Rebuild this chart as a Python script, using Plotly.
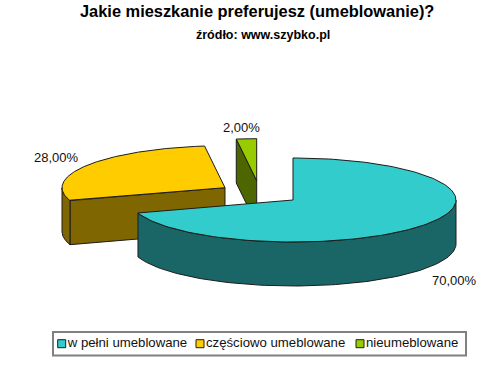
import numpy as np
import plotly.graph_objects as go

categories = ["w pełni umeblowane", "częściowo umeblowane", "nieumeblowane"]
values = [70.0, 28.0, 2.0]
labels = ["70,00%", "28,00%", "2,00%"]
top_colors = ["#33CCCC", "#FFCC00", "#99CC00"]
side_colors = ["#1A6666", "#806600", "#4D6600"]

# drawing geometry (pixels of the 500x366 window)
RX, RY, DEPTH = 163, 42, 44
centers = [(293, 200), (225, 187.7), (256.7, 180.7)]
label_pos = [(454, 280), (56, 157), (241, 127)]
legend_x = [61.7, 200, 360]
legend_y = 343.7
EDGE = "#1c1c1c"


def pt(c, deg, dz=0):
    t = np.radians(deg)
    return c[0] + RX * np.sin(t), c[1] - RY * np.cos(t) + dz


def poly(fig, xs, ys, fill):
    fig.add_trace(go.Scatter(x=list(xs), y=list(ys), mode="lines", fill="toself",
                             fillcolor=fill, line=dict(color=EDGE, width=1),
                             showlegend=False, hoverinfo="skip"))


total = sum(values)
spans = []
a = 0.0
for v in values:
    spans.append((a, a + 360 * v / total))
    a += 360 * v / total

fig = go.Figure()

# back to front: green, yellow, teal
for i in [2, 1, 0]:
    c = centers[i]
    a0, a1 = spans[i]
    th = np.linspace(a0, a1, 160)
    if i in (1, 2):
        p = pt(c, a0)
        poly(fig, [p[0], c[0], c[0], p[0], p[0]],
             [p[1], c[1], c[1] + DEPTH, p[1] + DEPTH, p[1]], side_colors[i])
    mask = np.cos(np.radians(th)) <= 0
    if mask.any():
        wt = th[mask]
        x, y = pt(c, wt)
        poly(fig, np.r_[x, x[::-1], x[0]], np.r_[y, y[::-1] + DEPTH, y[0]], side_colors[i])
    x, y = pt(c, th)
    poly(fig, np.r_[c[0], x, c[0]], np.r_[c[1], y, c[1]], top_colors[i])

fig.add_shape(type="rect", x0=53, x1=466, y0=332, y1=355.5, xref="x", yref="y",
              line=dict(color="#808080", width=2), fillcolor="white", layer="below")

for name, col, lx in zip(categories, top_colors, legend_x):
    fig.add_trace(go.Scatter(x=[lx], y=[legend_y], mode="markers+text", text=[name],
                             textposition="middle right", showlegend=False,
                             textfont=dict(family="Liberation Sans", size=13.2, color="#111"),
                             marker=dict(symbol="square", size=8, color=col,
                                         line=dict(color="#1c1c1c", width=1))))

for lab, (x, y) in zip(labels, label_pos):
    fig.add_annotation(x=x, y=y, text=lab, showarrow=False,
                       font=dict(family="Liberation Sans", size=13, color="#111"))

fig.add_annotation(x=256.5, y=11, text="<b>Jakie mieszkanie preferujesz (umeblowanie)?</b>", showarrow=False,
                   font=dict(family="Liberation Sans", size=16.4, color="#000"))
fig.add_annotation(x=263, y=35, text="<b>źródło: www.szybko.pl</b>", showarrow=False,
                   font=dict(family="Liberation Sans", size=12.5, color="#000"))

fig.update_layout(
    width=500, height=366, margin=dict(l=0, r=0, t=0, b=0),
    paper_bgcolor="white", plot_bgcolor="white", hovermode=False, showlegend=False,
    xaxis=dict(range=[0, 500], visible=False, fixedrange=True),
    yaxis=dict(range=[366, 0], visible=False, fixedrange=True),
)
fig.write_html("out.html", config=dict(displayModeBar=False),
               post_script="document.body.style.margin='0';document.body.style.overflow='hidden';")
